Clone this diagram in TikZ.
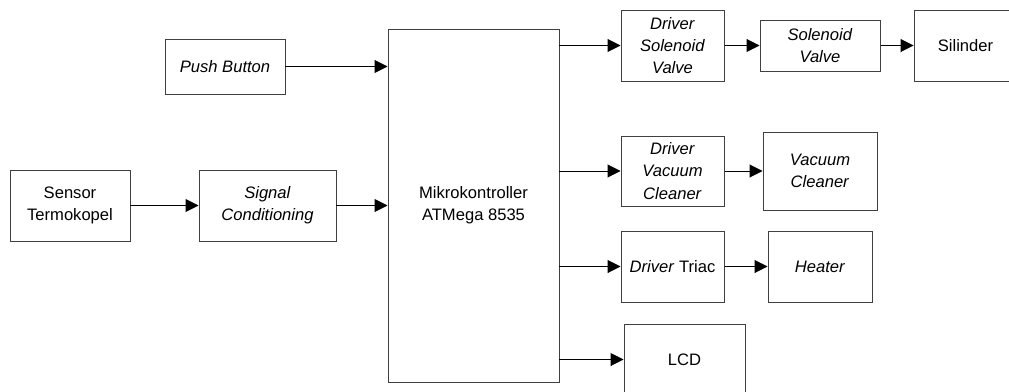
\documentclass[tikz,border=0pt]{standalone}
\usepackage{fontspec}
\setmainfont{Liberation Sans}
\usepackage{tikz}
\usetikzlibrary{arrows.meta}
\definecolor{edge}{HTML}{404040}
\tikzset{
    block/.style={draw=edge, rectangle, line width=0.7pt, minimum width=#1, minimum height=1.775cm, inner sep=1pt, align=center, font=\fontsize{11.8}{15.9}\selectfont},
    block/.default=2.575cm,
    arr/.style={-{Triangle[length=0.32cm, width=0.32cm]}, line width=0.7pt}
}

\begin{document}
\begin{tikzpicture}
        \useasboundingbox (0, 0) rectangle (25.225, 9.775);

        % --- Input side ---
        \node [block=3cm, minimum height=1.375cm] (push) at (5.625, 8.1125) {\textit{Push Button}};
        \node [block=3cm] (sensor) at (1.75, 4.6375) {Sensor\\Termokopel};
        \node [block=3.425cm] (signal) at (6.6875, 4.6375) {\textit{Signal}\\\textit{Conditioning}};

        % --- Controller ---
        \node [block=4.275cm, minimum height=8.825cm] (mcu) at (11.8375, 4.6375) {Mikrokontroller\\ATMega 8535};

        % --- Output side ---
        \node [block] (drvsol) at (16.8125, 8.6375) {\textit{Driver}\\\textit{Solenoid}\\\textit{Valve}};
        \node [block=3cm, minimum height=1.275cm] (sol) at (20.5, 8.6375) {\textit{Solenoid}\\\textit{Valve}};
        \node [block] (silinder) at (24.1375, 8.6375) {Silinder};

        \node [block, minimum height=1.75cm] (drvvac) at (16.8125, 5.5) {\textit{Driver}\\\textit{Vacuum}\\\textit{Cleaner}};
        \node [block=2.85cm, minimum height=1.95cm] (vac) at (20.5, 5.5) {\textit{Vacuum}\\\textit{Cleaner}};

        \node [block] (drvtriac) at (16.8125, 3.1125) {\textit{Driver} Triac};
        \node [block=2.6cm] (heater) at (20.5, 3.1125) {\textit{Heater}};

        \node [block=3.025cm] (lcd) at (17.1125, 0.7875) {LCD};

        % --- Main Flow ---
        \draw [arr] (sensor) -- (signal);
        \draw [arr] (signal) -- (signal.east -| mcu.west);
        \draw [arr] (push) -- (push.east -| mcu.west);

        \draw [arr] (mcu.east |- drvsol.west) -- (drvsol);
        \draw [arr] (drvsol) -- (sol);
        \draw [arr] (sol) -- (silinder);

        \draw [arr] (mcu.east |- drvvac.west) -- (drvvac);
        \draw [arr] (drvvac) -- (vac);

        \draw [arr] (mcu.east |- drvtriac.west) -- (drvtriac);
        \draw [arr] (drvtriac) -- (heater);

        \draw [arr] (mcu.east |- lcd.west) -- (lcd);

    \end{tikzpicture}
\end{document}
